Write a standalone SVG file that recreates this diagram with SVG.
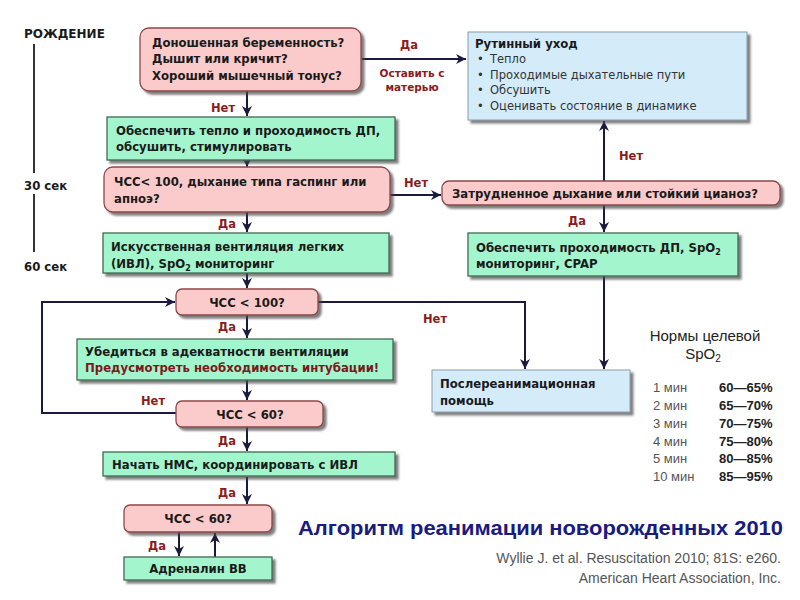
<svg xmlns="http://www.w3.org/2000/svg" width="800" height="600" viewBox="0 0 800 600">
<defs>
<style>
.pink{fill:#fbcaca;stroke:#8a4848;stroke-width:1.3}
.green{fill:#a3f5cd;stroke:#3f6a50;stroke-width:1.3}
.blue{fill:#d4ecfa;stroke:#8c9aa6;stroke-width:1}
.t{font-family:"DejaVu Sans",Verdana,sans-serif;font-size:11.7px;font-weight:bold;fill:#1a1a1a}
.tr{font-family:"DejaVu Sans",Verdana,sans-serif;font-size:11.5px;fill:#333}
.lbl{font-family:"DejaVu Sans",Verdana,sans-serif;font-size:11.5px;font-weight:bold;fill:#8b1c1c}
.lbls{font-family:"DejaVu Sans",Verdana,sans-serif;font-size:10.5px;font-weight:bold;fill:#8b1c1c}
.c{text-anchor:middle}
.ln{fill:none;stroke:#1a1a40;stroke-width:2}
.ar{marker-end:url(#ah)}
.tl{fill:none;stroke:#333;stroke-width:2}
.nrm{font-family:"Liberation Sans",Arial,sans-serif;font-size:13px;fill:#555555}
.nrmb{font-family:"Liberation Sans",Arial,sans-serif;font-size:13px;font-weight:bold;fill:#222222}
.nrmh{font-family:"Liberation Sans",Arial,sans-serif;font-size:15px;fill:#222222;text-anchor:middle}
.ttl{font-family:"Liberation Sans",Arial,sans-serif;font-size:20px;font-weight:bold;fill:#1a1a80}
.cit{font-family:"Liberation Sans",Arial,sans-serif;font-size:14px;fill:#555;text-anchor:end}
</style>
<filter id="sh" x="-10%" y="-20%" width="130%" height="160%">
<feDropShadow dx="3" dy="3" stdDeviation="1" flood-color="#444" flood-opacity="0.7"/>
</filter>
<marker id="ah" markerUnits="userSpaceOnUse" markerWidth="12" markerHeight="12" refX="10" refY="5" orient="auto">
<path d="M0,0 L10,5 L0,10 L3,5 Z" fill="#1a1a40"/>
</marker>
</defs>
<rect width="800" height="600" fill="#ffffff"/>

<g id="timeline">
<text x="24" y="38" class="t" style="font-size:12px">РОЖДЕНИЕ</text>
<line x1="34" y1="44" x2="34" y2="173" class="tl"/>
<text x="24" y="190" class="t">30 сек</text>
<line x1="34" y1="194" x2="34" y2="252" class="tl"/>
<text x="24" y="271" class="t">60 сек</text>
</g>

<g id="connectors">
<path d="M362,59 H466" class="ln ar"/>
<path d="M247,91 V116" class="ln ar"/>
<path d="M247,152 V167" class="ln ar"/>
<path d="M390,195 H441" class="ln ar"/>
<path d="M604,181 V121" class="ln ar"/>
<path d="M247,212 V232" class="ln ar"/>
<path d="M604,205 V232" class="ln ar"/>
<path d="M247,273 V288" class="ln ar"/>
<path d="M604,276 V369" class="ln ar"/>
<path d="M318,302 H525 V369" class="ln ar"/>
<path d="M247,315 V338" class="ln ar"/>
<path d="M247,380 V400" class="ln ar"/>
<path d="M176,413 H42 V302 H175" class="ln ar"/>
<path d="M247,427 V451" class="ln ar"/>
<path d="M247,477 V504" class="ln ar"/>
<path d="M179,532 V556" class="ln ar"/>
<path d="M215,557 V533" class="ln ar"/>
<text x="409" y="49" class="lbl c">Да</text>
<text x="412" y="77" class="lbls c">Оставить с</text>
<text x="412" y="91" class="lbls c">матерью</text>
<text x="223" y="112" class="lbl c">Нет</text>
<text x="416" y="187" class="lbl c">Нет</text>
<text x="631" y="160" class="lbl c">Нет</text>
<text x="227" y="228" class="lbl c">Да</text>
<text x="577" y="225" class="lbl c">Да</text>
<text x="227" y="331" class="lbl c">Да</text>
<text x="435" y="323" class="lbl c">Нет</text>
<text x="153" y="405" class="lbl c">Нет</text>
<text x="227" y="445" class="lbl c">Да</text>
<text x="227" y="497" class="lbl c">Да</text>
<text x="157" y="550" class="lbl c">Да</text>
</g>

<g id="n1">
<rect x="140" y="28" width="221" height="63" rx="9" class="pink" filter="url(#sh)"/>
<text x="152" y="47" class="t">Доношенная беременность?</text>
<text x="152" y="63" class="t">Дышит или кричит?</text>
<text x="152" y="80" class="t">Хороший мышечный тонус?</text>
</g>

<g id="routine">
<rect x="468" y="32" width="279" height="88" class="blue" filter="url(#sh)"/>
<text x="475" y="48" class="t">Рутинный уход</text>
<text x="477" y="63" class="tr">•</text><text x="490" y="63" class="tr">Тепло</text>
<text x="477" y="79" class="tr">•</text><text x="490" y="79" class="tr">Проходимые дыхательные пути</text>
<text x="477" y="94" class="tr">•</text><text x="490" y="94" class="tr">Обсушить</text>
<text x="477" y="110" class="tr">•</text><text x="490" y="110" class="tr">Оценивать состояние в динамике</text>
</g>

<g id="n2">
<rect x="107" y="117" width="288" height="43" class="green" filter="url(#sh)"/>
<text x="116" y="135" class="t">Обеспечить тепло и проходимость ДП,</text>
<text x="116" y="151" class="t">обсушить, стимулировать</text>
</g>

<g id="n3">
<rect x="104" y="167" width="286" height="45" rx="9" class="pink" filter="url(#sh)"/>
<text x="114" y="186" class="t">ЧСС&lt; 100, дыхание типа гаспинг или</text>
<text x="114" y="203" class="t">апноэ?</text>
</g>

<g id="n_distress">
<rect x="442" y="181" width="338" height="24" rx="7" class="pink" filter="url(#sh)"/>
<text x="452" y="198" class="t">Затрудненное дыхание или стойкий цианоз?</text>
</g>

<g id="n4">
<rect x="103" y="233" width="286" height="40" class="green" filter="url(#sh)"/>
<text x="111" y="251" class="t">Искусственная вентиляция легких</text>
<text x="111" y="268" class="t">(ИВЛ), SpO<tspan font-size="8" dy="3">2</tspan><tspan dy="-3"> мониторинг</tspan></text>
</g>

<g id="n_cpap">
<rect x="468" y="233" width="270" height="43" class="green" filter="url(#sh)"/>
<text x="476" y="252" class="t">Обеспечить проходимость ДП, SpO<tspan font-size="8" dy="3">2</tspan></text>
<text x="476" y="268" class="t">мониторинг, CPAP</text>
</g>

<g id="n5">
<rect x="176" y="289" width="142" height="26" rx="6" class="pink" filter="url(#sh)"/>
<text x="247" y="307" class="t c">ЧСС &lt; 100?</text>
</g>

<g id="n_post">
<rect x="432" y="370" width="198" height="42" class="blue" filter="url(#sh)"/>
<text x="440" y="388" class="t">Послереанимационная</text>
<text x="440" y="405" class="t">помощь</text>
</g>

<g id="n6">
<rect x="77" y="339" width="316" height="41" class="green" filter="url(#sh)"/>
<text x="85" y="356" class="t">Убедиться в адекватности вентиляции</text>
<text x="85" y="372" class="t" style="fill:#7a1a1a">Предусмотреть необходимость интубации!</text>
</g>

<g id="n7">
<rect x="176" y="401" width="147" height="26" rx="6" class="pink" filter="url(#sh)"/>
<text x="250" y="419" class="t c">ЧСС &lt; 60?</text>
</g>

<g id="n8">
<rect x="103" y="452" width="292" height="24" class="green" filter="url(#sh)"/>
<text x="112" y="469" class="t">Начать НМС, координировать с ИВЛ</text>
</g>

<g id="n9">
<rect x="124" y="505" width="148" height="27" rx="6" class="pink" filter="url(#sh)"/>
<text x="198" y="523" class="t c">ЧСС &lt; 60?</text>
</g>

<g id="n10">
<rect x="124" y="557" width="148" height="23" class="green" filter="url(#sh)"/>
<text x="198" y="573" class="t c">Адреналин ВВ</text>
</g>

<g id="norms" fill="#555555">
<text x="705" y="341" class="nrmh">Нормы целевой</text>
<text x="703" y="359" class="nrmh">SpO<tspan font-size="10" dy="3">2</tspan></text>
<text x="653" y="392" class="nrm" fill="#555555" style="fill:#555555">1 мин</text><text x="719" y="392" class="nrmb">60—65%</text>
<text x="653" y="410" class="nrm">2 мин</text><text x="719" y="410" class="nrmb">65—70%</text>
<text x="653" y="428" class="nrm">3 мин</text><text x="719" y="428" class="nrmb">70—75%</text>
<text x="653" y="446" class="nrm">4 мин</text><text x="719" y="446" class="nrmb">75—80%</text>
<text x="653" y="463" class="nrm">5 мин</text><text x="719" y="463" class="nrmb">80—85%</text>
<text x="653" y="481" class="nrm">10 мин</text><text x="719" y="481" class="nrmb">85—95%</text>
</g>

<g id="title">
<text x="298" y="535" class="ttl" textLength="485" lengthAdjust="spacingAndGlyphs">Алгоритм реанимации новорожденных 2010</text>
<text x="781" y="563" class="cit">Wyllie J. et al. Resuscitation 2010; 81S: e260.</text>
<text x="781" y="583" class="cit">American Heart Association, Inc.</text>
</g>
</svg>
